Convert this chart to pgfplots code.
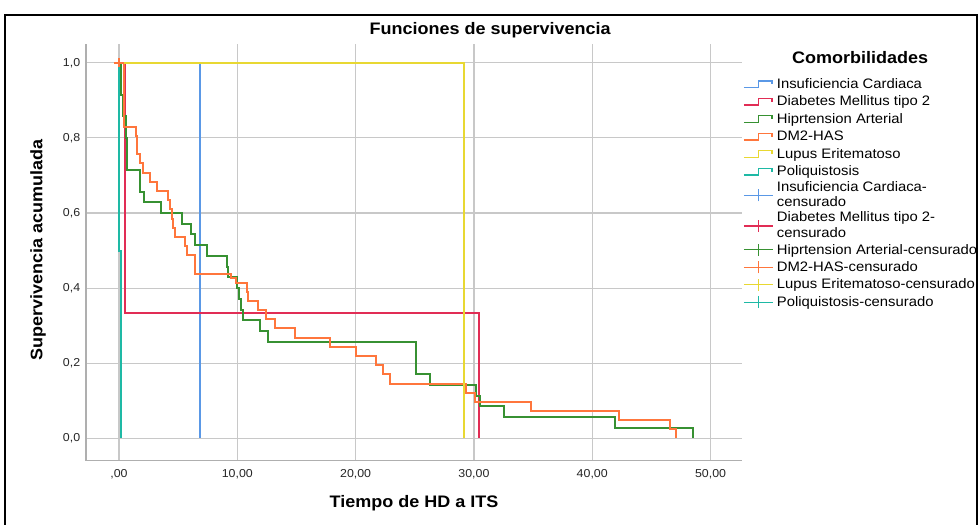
\documentclass[border=0pt]{standalone}
\usepackage{pgfplots}
\pgfplotsset{compat=1.18}
\usepackage{fontspec}
\setmainfont{Liberation Sans}[FakeStretch=1.08]
\definecolor{cIC}{RGB}{90,152,230}
\definecolor{cDM}{RGB}{225,45,85}
\definecolor{cHA}{RGB}{55,145,50}
\definecolor{cDH}{RGB}{255,118,60}
\definecolor{cLE}{RGB}{232,216,50}
\definecolor{cPQ}{RGB}{30,185,165}
\definecolor{gridgray}{RGB}{200,200,200}
\definecolor{axisgray}{RGB}{175,175,175}
\newcommand\lst{\rule[-3.4pt]{0pt}{13.1pt}}
\newcommand\lsa{\rule{0pt}{8.3pt}}
\newcommand\lsb{\rule[-2.9pt]{0pt}{2.9pt}}
\pgfplotsset{
  stepimg/.style={legend image code/.code={
     \draw[##1] (0pt,-2.5pt) -- (11pt,-2.5pt) -- (11pt,2.5pt) -- (21pt,2.5pt) -- (21pt,0pt);}},
  censimg/.style={legend image code/.code={
     \draw[##1] (0pt,0pt) -- (21.75pt,0pt);
     \draw[##1] (11pt,-4.5pt) -- (11pt,4.5pt);}},
  km/.style={const plot, line width=1.5pt, line join=miter, forget plot},
}
\begin{document}
\begin{tikzpicture}
\path[use as bounding box] (0pt,0pt) rectangle (735pt,393pt);
\fill[white] (0pt,0pt) rectangle (735pt,393pt);
\draw[line width=1.2pt, black] (3.75pt,-5pt) -- (3.75pt,381.75pt) -- (732.75pt,381.75pt) -- (732.75pt,-5pt);
\begin{axis}[
  at={(64.5pt,47.625pt)}, anchor=south west,
  width=492pt, height=312.4pt, scale only axis,
  xmin=-2.79, xmax=52.66, ymin=-0.0587, ymax=1.05,
  axis x line*=bottom, axis y line*=left,
  axis line style={axisgray, line width=1.3pt},
  xtick={0,10,20,30,40,50},
  xticklabels={{,00},{10,00},{20,00},{30,00},{40,00},{50,00}},
  ytick={0,0.2,0.4,0.6,0.8,1},
  yticklabels={{0,0},{0,2},{0,4},{0,6},{0,8},{1,0}},
  major tick length=0pt,
  grid=major, major grid style={gridgray, line width=0.9pt},
  tick label style={font=\fontsize{8.6}{10}\selectfont, text=black!85},
  xticklabel style={yshift=-3pt},
  yticklabel style={xshift=-0.85pt},
  xlabel={Tiempo de HD a ITS}, ylabel={Supervivencia acumulada},
  label style={font=\bfseries\fontsize{12.5}{15}\selectfont},
  xlabel style={at={(axis description cs:0.5,-0.102)}, anchor=center},
  ylabel style={at={(axis description cs:-0.073,0.505)}, anchor=center},
  clip mode=individual,
  legend cell align=left,
  legend style={at={(axis description cs:1.0015,0.925)}, anchor=north west,
    draw=none, fill=none, inner sep=0pt, row sep=0pt, column sep=0pt,
    cells={align=left}, nodes={inner xsep=2.5pt, inner ysep=0pt, text depth=},
    font=\fontsize{10.3}{11.6}\selectfont},
]
% Insuficiencia Cardiaca
\addplot[km, cIC] coordinates {(0,1) (6.85,0)};
% Diabetes Mellitus tipo 2
\addplot[km, cDM] coordinates {(0,1) (0.51,0.3333) (30.47,0)};
% Hiprtension Arterial
\addplot[km, cHA] coordinates {
(0,1) (0.17,0.914) (0.3,0.857) (0.55,0.8) (0.7,0.714) (1.75,0.657) (2.15,0.629)
(3.55,0.6) (5.3,0.571) (6.1,0.543) (6.45,0.514) (7.4,0.486) (9.15,0.457) (9.24,0.429)
(9.95,0.4) (10.15,0.371) (10.3,0.343) (10.45,0.314) (11.95,0.286) (12.6,0.257)
(25.1,0.171) (26.3,0.143) (30.2,0.114) (30.5,0.086) (32.5,0.057) (41.9,0.029) (48.5,0)};
% DM2-HAS
\addplot[km, cDH] coordinates {
(0,1) (0.4,0.829) (1.43,0.805) (1.55,0.756) (1.77,0.732) (2.0,0.707) (2.58,0.683)
(3.23,0.659) (4.15,0.634) (4.3,0.61) (4.45,0.585) (4.6,0.561) (4.75,0.537)
(5.6,0.512) (5.75,0.488) (6.46,0.439) (9.5,0.427) (9.9,0.415) (10.8,0.39)
(10.9,0.366) (11.75,0.341) (12.4,0.317) (13.15,0.293) (14.9,0.268) (17.8,0.244)
(20.0,0.22) (21.7,0.195) (22.3,0.171) (22.9,0.146) (29.3,0.122) (30.1,0.098)
(34.8,0.073) (42.3,0.049) (46.6,0.024) (47.1,0)};
% Lupus Eritematoso
\addplot[km, cLE] coordinates {(0,1) (29.2,0)};
% Poliquistosis
\addplot[km, cPQ] coordinates {(0,1) (0,0.5) (0.17,0)};
% DM2-HAS censurado
\addplot[only marks, mark=+, mark size=3.4pt, cDH, line width=1.3pt, forget plot] coordinates {(0,1)};

\addlegendimage{stepimg, cIC, line width=1pt}
\addlegendentry{\lst Insuficiencia Cardiaca}
\addlegendimage{stepimg, cDM, line width=1pt}
\addlegendentry{\lst Diabetes Mellitus tipo 2}
\addlegendimage{stepimg, cHA, line width=1pt}
\addlegendentry{\lst Hiprtension Arterial}
\addlegendimage{stepimg, cDH, line width=1pt}
\addlegendentry{\lst DM2-HAS}
\addlegendimage{stepimg, cLE, line width=1pt}
\addlegendentry{\lst Lupus Eritematoso}
\addlegendimage{stepimg, cPQ, line width=1pt}
\addlegendentry{\lst Poliquistosis}
\addlegendimage{censimg, cIC, line width=1pt}
\addlegendentry{\lsa Insuficiencia Cardiaca-\\\lsb censurado}
\addlegendimage{censimg, cDM, line width=1pt}
\addlegendentry{\lsa Diabetes Mellitus tipo 2-\\\lsb censurado}
\addlegendimage{censimg, cHA, line width=1pt}
\addlegendentry{\lst Hiprtension Arterial-censurado}
\addlegendimage{censimg, cDH, line width=1pt}
\addlegendentry{\lst DM2-HAS-censurado}
\addlegendimage{censimg, cLE, line width=1pt}
\addlegendentry{\lst Lupus Eritematoso-censurado}
\addlegendimage{censimg, cPQ, line width=1pt}
\addlegendentry{\lst Poliquistosis-censurado}

\node[font=\bfseries\fontsize{12.5}{15}\selectfont] at (axis description cs:1.18,0.9664) {Comorbilidades};
\node[font=\bfseries\fontsize{12.5}{15}\selectfont] at (axis description cs:0.616,1.0336) {Funciones de supervivencia};
\end{axis}
\end{tikzpicture}
\end{document}
